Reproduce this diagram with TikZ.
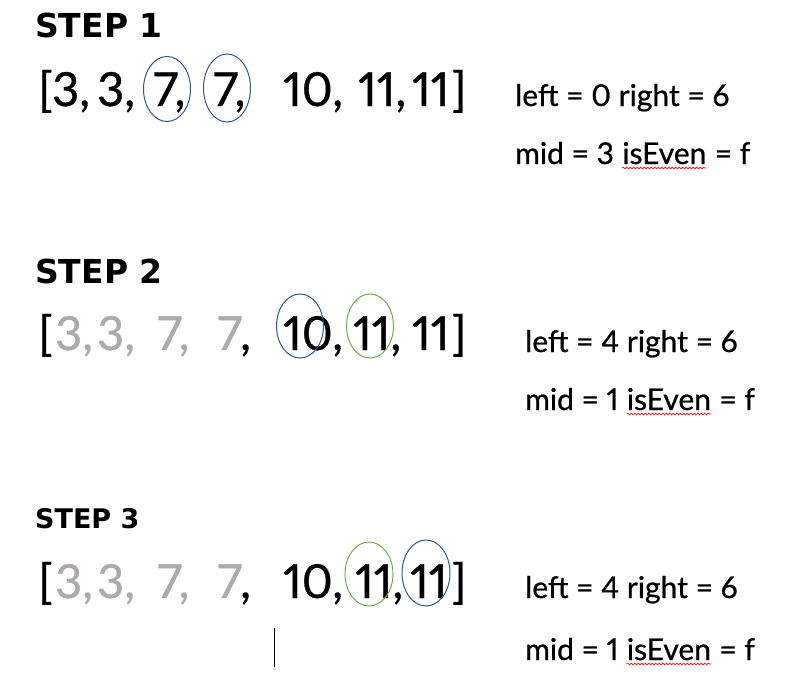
\documentclass[tikz,border=0pt]{standalone}
\usepackage{fontspec}
\setmainfont{Lato}[Numbers=Proportional, RawFeature={embolden=0.7}]
\newfontfamily\headfont{DejaVu Sans}
\usetikzlibrary{shapes.geometric,decorations.pathmorphing}
\definecolor{ringblue}{HTML}{2F5597}
\definecolor{ringgreen}{HTML}{70AD47}
\definecolor{donegray}{HTML}{AEAAAA}
\newcommand\numsize{\fontsize{47}{56}\selectfont}
\newcommand\infosize{\fontsize{30}{36}\selectfont}
\newcommand\headsize{\fontsize{33}{40}\selectfont}

\begin{document}
\begin{tikzpicture}[x=1pt, y=-1pt,
  num/.style={anchor=base west, inner sep=0, font=\numsize},
  info/.style={anchor=base west, inner sep=0, font=\infosize},
  head/.style={anchor=base west, inner sep=0, font=\headfont\bfseries\headsize},
  bluering/.style={draw=ringblue, line width=1pt, ellipse, inner sep=0, minimum width=47pt, minimum height=65pt},
  greenring/.style={draw=ringgreen, line width=1pt, ellipse, inner sep=0, minimum width=47pt, minimum height=65pt},
  squiggle/.style={red, line width=0.6pt, decorate, decoration={snake, amplitude=1pt, segment length=3.5pt}}]
\useasboundingbox (0, 0) rectangle (795, 689);
%Step 1
\node[head] (step1) at (35, 37) {STEP 1};
\foreach \x/\t/\c [count=\i] in {38/{[}/black, 52/{3,}/black, 97/{3,}/black, 153/{7,}/black, 213/{7,}/black,
    283/{10,}/black, 358/{11,}/black, 412/{11}/black, 452/{]}/black}
  \node[num, text=\c] (a\i) at (\x, 106) {\t};
\node[bluering] (a-lo) at (167, 89) {};
\node[bluering, minimum height=68pt] (a-hi) at (227, 88) {};
\node[info] (a-left) at (515, 106) {left = 0 right = 6};
\node[info] (a-mid) at (515, 164) {mid = 3};
\node[info] (a-even) at ([xshift=8pt]a-mid.base east) {isEven};
\node[info] (a-val) at ([xshift=8pt]a-even.base east) {= f};
\draw[squiggle] ([yshift=-4pt]a-even.base west) -- ([yshift=-4pt]a-even.base east);
%Step 2
\node[head] (step2) at (35, 283) {STEP 2};
\foreach \x/\t/\c [count=\i] in {38/{[}/black, 55/{3,}/donegray, 97/{3,}/donegray, 157/{7,}/donegray, 217/{7}/donegray,
    240/{,}/black, 283/{10,}/black, 353/{11,}/black, 412/{11}/black, 452/{]}/black}
  \node[num, text=\c] (b\i) at (\x, 350) {\t};
\node[bluering, minimum height=64pt] (b-lo) at (300, 326) {};
\node[greenring, minimum height=64pt] (b-hi) at (370, 326) {};
\node[info] (b-left) at (525, 352) {left = 4 right = 6};
\node[info] (b-mid) at (525, 410) {mid = 1};
\node[info] (b-even) at ([xshift=8pt]b-mid.base east) {isEven};
\node[info] (b-val) at ([xshift=8pt]b-even.base east) {= f};
\draw[squiggle] ([yshift=-4pt]b-even.base west) -- ([yshift=-4pt]b-even.base east);
%Step 3
\node[head, font=\headfont\bfseries\fontsize{27}{32}\selectfont] (step3) at (35, 528) {STEP 3};
\foreach \x/\t/\c [count=\i] in {38/{[}/black, 55/{3,}/donegray, 97/{3,}/donegray, 157/{7,}/donegray, 217/{7}/donegray,
    240/{,}/black, 283/{10,}/black, 355/{11,}/black, 410/{11}/black, 452/{]}/black}
  \node[num, text=\c] (c\i) at (\x, 598) {\t};
\node[greenring, minimum width=48pt, minimum height=64pt] (c-lo) at (369, 574) {};
\node[bluering, minimum width=48pt, minimum height=66pt] (c-hi) at (426, 573) {};
\node[info] (c-left) at (525, 598) {left = 4 right = 6};
\node[info] (c-mid) at (525, 660) {mid = 1};
\node[info] (c-even) at ([xshift=8pt]c-mid.base east) {isEven};
\node[info] (c-val) at ([xshift=8pt]c-even.base east) {= f};
\draw[squiggle] ([yshift=-4pt]c-even.base west) -- ([yshift=-4pt]c-even.base east);
\draw[line width=0.8pt] (274, 628) -- (274, 667);
\end{tikzpicture}
\end{document}
